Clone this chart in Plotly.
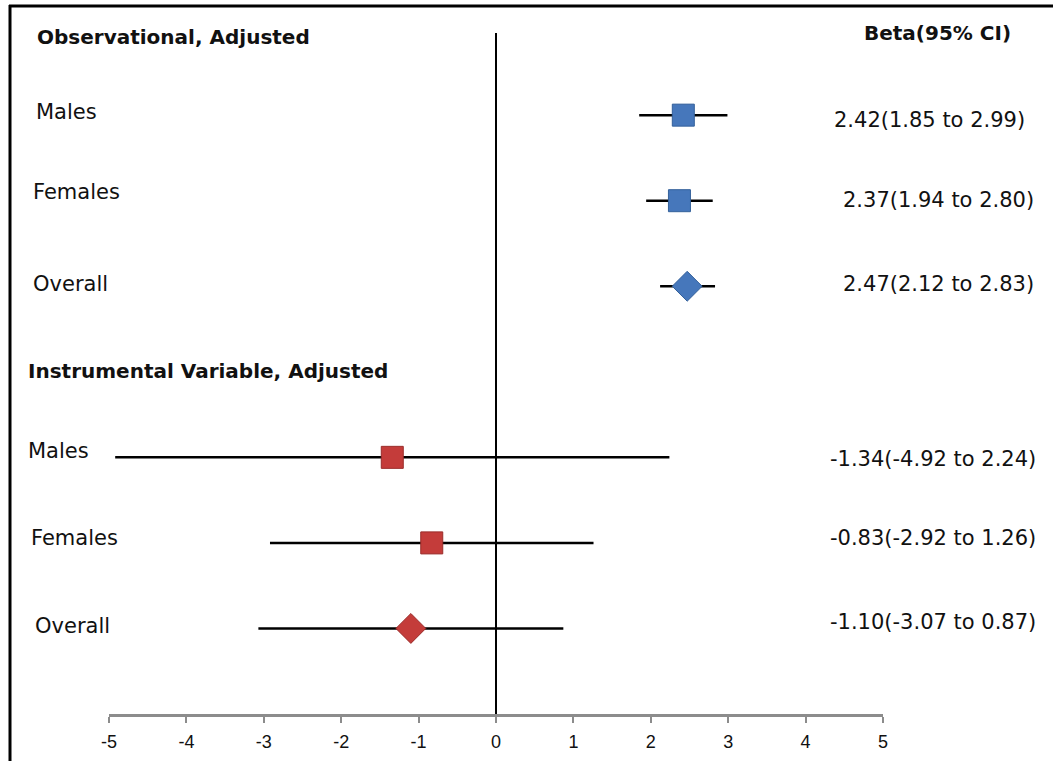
import plotly.graph_objects as go

# ---------------- data ----------------
groups = ["Males", "Females", "Overall"]
obs_beta = [2.42, 2.37, 2.47]
obs_lo = [1.85, 1.94, 2.12]
obs_hi = [2.99, 2.80, 2.83]
iv_beta = [-1.34, -0.83, -1.10]
iv_lo = [-4.92, -2.92, -3.07]
iv_hi = [2.24, 1.26, 0.87]
section_titles = ["Observational, Adjusted", "Instrumental Variable, Adjusted"]
col_title = "Beta(95% CI)"
tick_vals = [-5, -4, -3, -2, -1, 0, 1, 2, 3, 4, 5]
tick_text = ["-5", "-4", "-3", "-2", "-1", "0", "1", "2", "3", "4", "5"]

# ---------------- layout geometry (pixels) ----------------
W, H = 1053, 761
PL, PR, PT, PB = 109, 883, 33, 714  # plot area
pw, ph = PR - PL, PB - PT


def px(x):
    return (x - PL) / pw


def py(y):
    return (PB - y) / ph


# row positions (y units): obs rows at 7,6,5 ; IV rows at 3,2,1
obs_y = [7 - i for i in range(len(groups))]
iv_y = [3 - i for i in range(len(groups))]

BLUE, BLUE_D = "#4677bb", "#33609a"
RED, RED_D = "#c43c3a", "#9a2c2a"

fig = go.Figure()


def add_series(beta, lo, hi, ys, color, edge, symbols, sizes):
    fig.add_trace(go.Scatter(
        x=beta, y=ys, mode="markers",
        marker=dict(symbol=symbols, size=sizes, color=color, opacity=1,
                    line=dict(color=edge, width=1)),
        error_x=dict(type="data", symmetric=False,
                     array=[h - b for h, b in zip(hi, beta)],
                     arrayminus=[b - l for b, l in zip(beta, lo)],
                     color="black", thickness=2.5, width=0),
        showlegend=False, hoverinfo="x+y"))


sym = ["square", "square", "diamond"]
sz = [22, 22, 23]
add_series(obs_beta, obs_lo, obs_hi, obs_y, BLUE, BLUE_D, sym, sz)
add_series(iv_beta, iv_lo, iv_hi, iv_y, RED, RED_D, sym, sz)

ann = []
TXT = dict(family="DejaVu Sans, Open Sans, sans-serif", size=21, color="#111111")
BOLD = dict(family="DejaVu Sans, Open Sans, sans-serif", size=20, color="#111111")

# section headers and column title
ann.append(dict(text="<b>%s</b>" % section_titles[0], x=px(35), y=py(37)))
ann.append(dict(text="<b>%s</b>" % section_titles[1], x=px(26), y=py(371)))
ann.append(dict(text="<b>%s</b>" % col_title, x=px(862), y=py(33)))
for a in ann:
    a.update(font=BOLD)

# left row labels
left_pos = [(34, 112), (31, 192), (31, 284), (26, 451), (29, 538), (33, 626)]
right_pos = [(832, 120), (841, 200), (841, 284), (828, 459), (828, 538), (828, 622)]
all_groups = groups + groups
all_b = obs_beta + iv_beta
all_lo = obs_lo + iv_lo
all_hi = obs_hi + iv_hi
for i, g in enumerate(all_groups):
    lx, ly = left_pos[i]
    ann.append(dict(text=g, x=px(lx), y=py(ly), font=TXT))
    rx, ry = right_pos[i]
    label = "%.2f(%.2f to %.2f)" % (all_b[i], all_lo[i], all_hi[i])
    ann.append(dict(text=label, x=px(rx), y=py(ry), font=TXT))

for a in ann:
    a.update(xref="paper", yref="paper", xanchor="left", yanchor="middle",
             showarrow=False)

shapes = [
    # outer frame (left and top)
    dict(type="line", xref="paper", yref="paper",
         x0=px(10), x1=px(10), y0=py(5), y1=py(H + 5),
         line=dict(color="black", width=3)),
    dict(type="line", xref="paper", yref="paper",
         x0=px(9), x1=px(W + 5), y0=py(6), y1=py(6),
         line=dict(color="black", width=3)),
]

fig.update_layout(
    width=W, height=H,
    margin=dict(l=PL, r=W - PR, t=PT, b=H - PB, autoexpand=False),
    paper_bgcolor="white", plot_bgcolor="white",
    annotations=ann, shapes=shapes,
    xaxis=dict(range=[-5, 5], tickvals=tick_vals, ticktext=tick_text,
               showgrid=False, zeroline=True, zerolinecolor="black",
               zerolinewidth=2, showline=True, linecolor="#8c8c8c",
               linewidth=2.5, ticks="outside", ticklen=6, tickwidth=2,
               tickcolor="#8c8c8c", ticklabelstandoff=4,
               tickfont=dict(family="Liberation Sans Narrow, Liberation Sans, sans-serif",
                             size=18, color="#111111"),
               automargin=False, fixedrange=True),
    yaxis=dict(range=[0, ph / 85.55], visible=False, showgrid=False,
               zeroline=False, fixedrange=True, automargin=False),
)

fig.write_html("out.html")
